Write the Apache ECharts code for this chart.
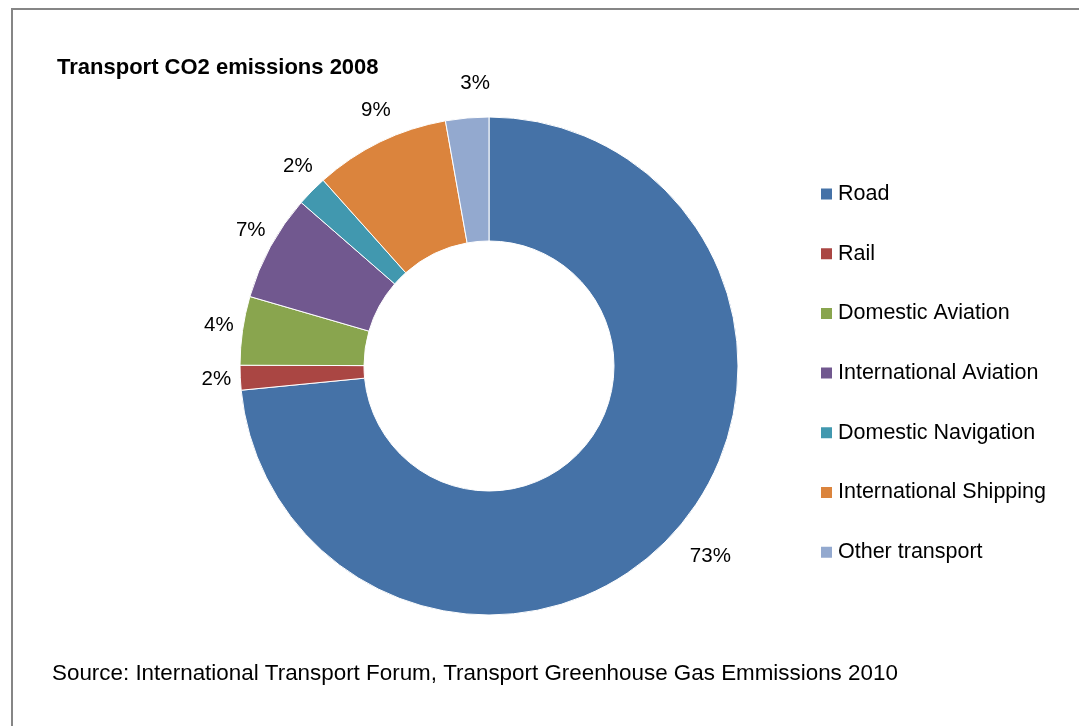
<!DOCTYPE html>
<html>
<head>
<meta charset="utf-8">
<script src="https://cdn.jsdelivr.net/npm/echarts@6/dist/echarts.min.js"></script>
<style>
html,body{margin:0;padding:0;background:#fff;}
#chart{width:1079px;height:726px;}
</style>
</head>
<body>
<div id="chart"></div>
<script>
// Data
const categories = ["Road", "Rail", "Domestic Aviation", "International Aviation", "Domestic Navigation", "International Shipping", "Other transport"];
const shares = [73.45, 1.6, 4.45, 6.9, 2.0, 8.8, 2.8];
const colors = ["#4572A7", "#AA4643", "#89A54E", "#71588F", "#4198AF", "#DB843D", "#93A9CF"];
const titleText = "Transport CO2 emissions 2008";
const sourceText = "Source: International Transport Forum, Transport Greenhouse Gas Emmissions 2010";

const FONT = "'Liberation Sans', Arial, sans-serif";
const chart = echarts.init(document.getElementById('chart'), null, {renderer: 'canvas'});

const pieData = categories.map((c, i) => ({name: c, value: shares[i], itemStyle: {color: colors[i]}}));
const labelData = categories.map((c, i) => ({name: c, value: shares[i]}));

chart.setOption({
  animation: false,
  backgroundColor: '#ffffff',
  title: [
    {text: titleText, left: 57, top: 57, padding: 0,
     textStyle: {fontFamily: FONT, fontSize: 22, fontWeight: 'bold', color: '#000'}},
    {text: sourceText, left: 52, top: 663, padding: 0,
     textStyle: {fontFamily: FONT, fontSize: 22.4, fontWeight: 'normal', color: '#000'}}
  ],
  graphic: [{
    type: 'rect', silent: true, z: -10,
    shape: {x: 12, y: 9, width: 1200, height: 900},
    style: {fill: 'none', stroke: '#868686', lineWidth: 2}
  }],
  legend: {
    orient: 'vertical', left: 819, top: 183, padding: 0,
    icon: 'rect', itemWidth: 13, itemHeight: 13, itemGap: 37.7,
    data: categories,
    textStyle: {fontFamily: FONT, fontSize: 21.5, color: '#000', lineHeight: 20}
  },
  series: [
    {
      name: 'Transport CO2', type: 'pie',
      center: [489, 366], radius: [125, 249],
      startAngle: 90, clockwise: true,
      avoidLabelOverlap: false,
      itemStyle: {borderColor: '#ffffff', borderWidth: 1},
      label: {show: false}, labelLine: {show: false},
      emphasis: {disabled: true},
      data: pieData
    },
    {
      name: 'labels', type: 'pie',
      center: [500, 366], radius: [272, 290],
      startAngle: 90, clockwise: true,
      avoidLabelOverlap: false, silent: true,
      legendHoverLink: false,
      itemStyle: {color: 'rgba(0,0,0,0)'},
      label: {
        show: true, position: 'inside',
        fontFamily: FONT, fontSize: 20.5, color: '#000',
        formatter: p => Math.round(p.percent) + '%'
      },
      labelLine: {show: false},
      emphasis: {disabled: true},
      data: labelData
    }
  ]
});
</script>
</body>
</html>
